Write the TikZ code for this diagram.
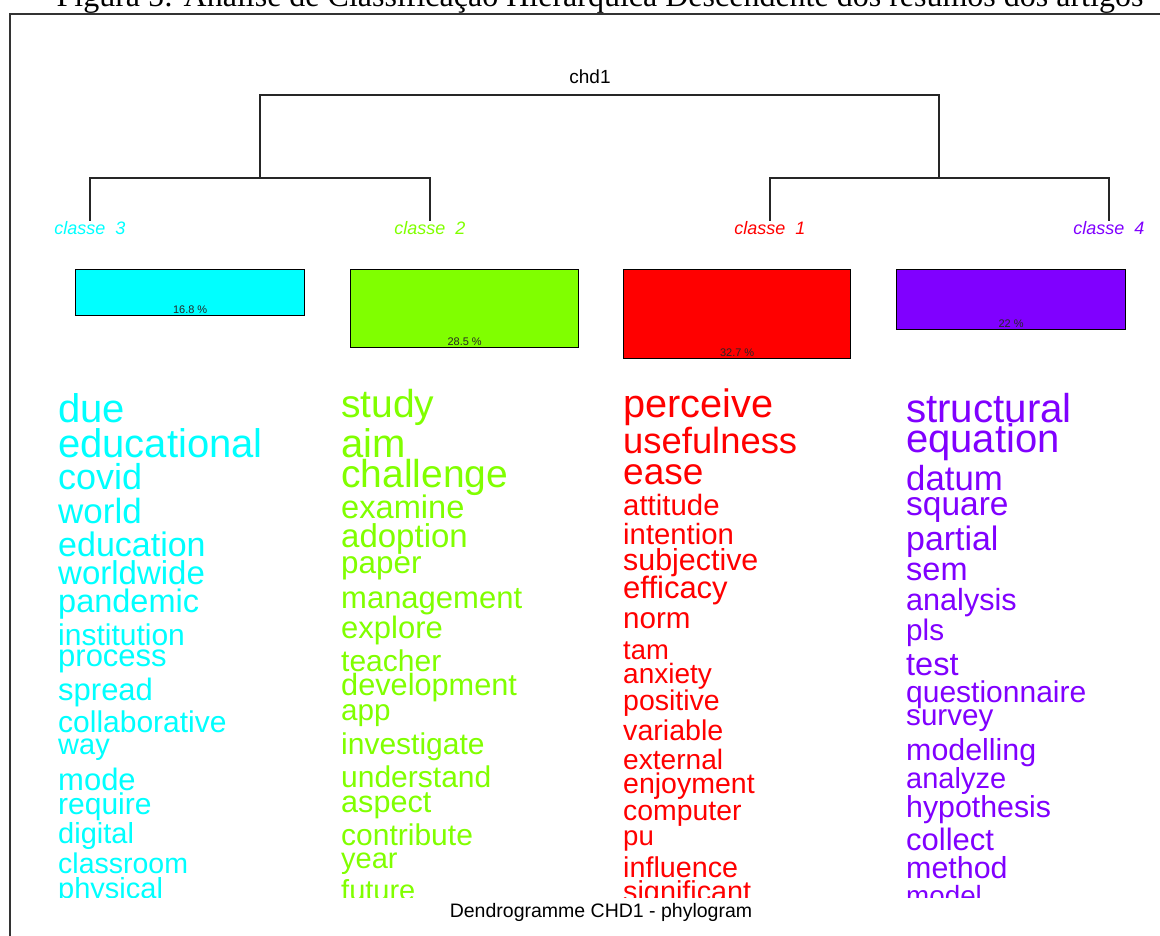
\documentclass[tikz,border=0pt]{standalone}
\usepackage{fontspec}
\setmainfont{Liberation Sans}
\newfontfamily\capfont{Liberation Serif}
\usetikzlibrary{calc}

\definecolor{cl1}{RGB}{255,0,0}
\definecolor{cl2}{RGB}{128,255,0}
\definecolor{cl3}{RGB}{0,255,255}
\definecolor{cl4}{RGB}{128,0,255}

\tikzset{
  dendro/.style={line width=1.3pt,black!85},
  leaf/.style={font=\fontsize{18}{18}\selectfont\itshape,anchor=base,inner sep=0pt},
  classbox/.style={draw=black,line width=1.3pt,anchor=north west,inner sep=0pt},
  pct/.style={font=\fontsize{11}{11}\selectfont,anchor=base,inner sep=0pt,black!85},
  word/.style={anchor=base west,inner sep=0pt},
}

\begin{document}
\begin{tikzpicture}[x=1pt,y=-1pt]
    \useasboundingbox (0,0) rectangle (1160,935);

    % caption, cut by the top of the page
    \node[anchor=base,inner sep=0pt,font=\capfont\fontsize{32}{32}\selectfont] (caption) at (600,6)
        {Figura 5: Análise de Classificação Hierárquica Descendente dos resumos dos artigos};

    % frame
    \draw[line width=2pt,black!80] (10,960) -- (10,14) -- (1180,14);

    %%%%%%%%%%%%%%%%%%%%%%%%%%%%%%%%%%%%%%%%%%%%%%%%%%%%%%

    % dendrogram
    \node[anchor=base,inner sep=0pt,font=\fontsize{19}{19}\selectfont] (root) at (590,83) {chd1};
    \node[leaf,text=cl3] (l3) at (90,234) {classe\ \ 3};
    \node[leaf,text=cl2] (l2) at (430,234) {classe\ \ 2};
    \node[leaf,text=cl1] (l1) at (770,234) {classe\ \ 1};
    \node[leaf,text=cl4] (l4) at (1109,234) {classe\ \ 4};
    \coordinate (j32) at (260,178);
    \coordinate (j14) at (939,178);
    \coordinate (top) at (0,95);
    \draw[dendro] (l3.north) -- (l3 |- j32) -- (l2 |- j32) -- (l2.north);
    \draw[dendro] (l1.north) -- (l1 |- j14) -- (l4 |- j14) -- (l4.north);
    \draw[dendro] (j32) -- (j32 |- top) -- (j14 |- top) -- (j14);

    %%%%%%%%%%%%%%%%%%%%%%%%%%%%%%%%%%%%%%%%%%%%%%%%%%%%%%

    % class sizes
    \node[classbox,fill=cl3,minimum width=229pt,minimum height=46pt] (b3) at (75,269) {};
    \node[classbox,fill=cl2,minimum width=228pt,minimum height=78pt] (b2) at (350,269) {};
    \node[classbox,fill=cl1,minimum width=227pt,minimum height=89pt] (b1) at (623,269) {};
    \node[classbox,fill=cl4,minimum width=229pt,minimum height=60pt] (b4) at (896,269) {};
    \node[pct] (p3) at ($(b3.south)+(0,-3)$) {16.8 \%};
    \node[pct] (p2) at ($(b2.south)+(0,-3)$) {28.5 \%};
    \node[pct] (p1) at ($(b1.south)+(0,-3)$) {32.7 \%};
    \node[pct] (p4) at ($(b4.south)+(0,-3)$) {22 \%};

    %%%%%%%%%%%%%%%%%%%%%%%%%%%%%%%%%%%%%%%%%%%%%%%%%%%%%%

    % words of each class
    \begin{scope}
    \clip (0,0) rectangle (1160,897);
    \foreach \w/\y/\s [count=\i] in {due/422/40,educational/457/40,covid/489/36,world/523/35,
        education/556/34,worldwide/584/33,pandemic/612/32.5,institution/645/30,process/666/31,
        spread/700/31,collaborative/732/30,way/754/29,mode/790/31,require/814/30,digital/843/29,
        classroom/873/28.5,physical/898/29}
        \node[word,text=cl3,font=\fontsize{\s}{\s}\selectfont] (w3-\i) at (58,\y) {\w};
    \foreach \w/\y/\s [count=\i] in {study/417/39,aim/457/40,challenge/487/39,examine/518/32.6,
        adoption/547/33,paper/573/31.4,management/608/31,explore/638/31,teacher/671/30,
        development/695/30.7,app/720/29.6,investigate/754/30,understand/787/30,aspect/812/30.6,
        contribute/845/30,year/868/29,future/900/29}
        \node[word,text=cl2,font=\fontsize{\s}{\s}\selectfont] (w2-\i) at (341,\y) {\w};
    \foreach \w/\y/\s [count=\i] in {perceive/417/39.7,usefulness/453/36.4,ease/484/37,
        attitude/515/29.4,intention/544/29.3,subjective/570/30.4,efficacy/598/31,norm/628/29.6,
        tam/659/27.4,anxiety/683/28,positive/710/28.5,variable/740/28.6,external/769/28.1,
        enjoyment/793/28.5,computer/820/28.4,pu/845/27.6,influence/877/28.7,significant/901/28.8}
        \node[word,text=cl1,font=\fontsize{\s}{\s}\selectfont] (w1-\i) at (623,\y) {\w};
    \foreach \w/\y/\s [count=\i] in {structural/422/40.3,equation/452/40,datum/490/34.8,
        square/515/33.5,partial/550/33.9,sem/580/32.5,analysis/610/30.6,pls/640/29.7,test/675/32.5,
        questionnaire/702/30,survey/725/29.6,modelling/760/30.4,analyze/788/29,hypothesis/817/30.3,
        collect/850/31,method/878/30.4,model/905/27.8}
        \node[word,text=cl4,font=\fontsize{\s}{\s}\selectfont] (w4-\i) at (906,\y) {\w};
    \end{scope}

    % plot title
    \node[anchor=base,inner sep=0pt,font=\fontsize{19.5}{19.5}\selectfont] (footer) at (601,917)
        {Dendrogramme CHD1 - phylogram};

\end{tikzpicture}
\end{document}
